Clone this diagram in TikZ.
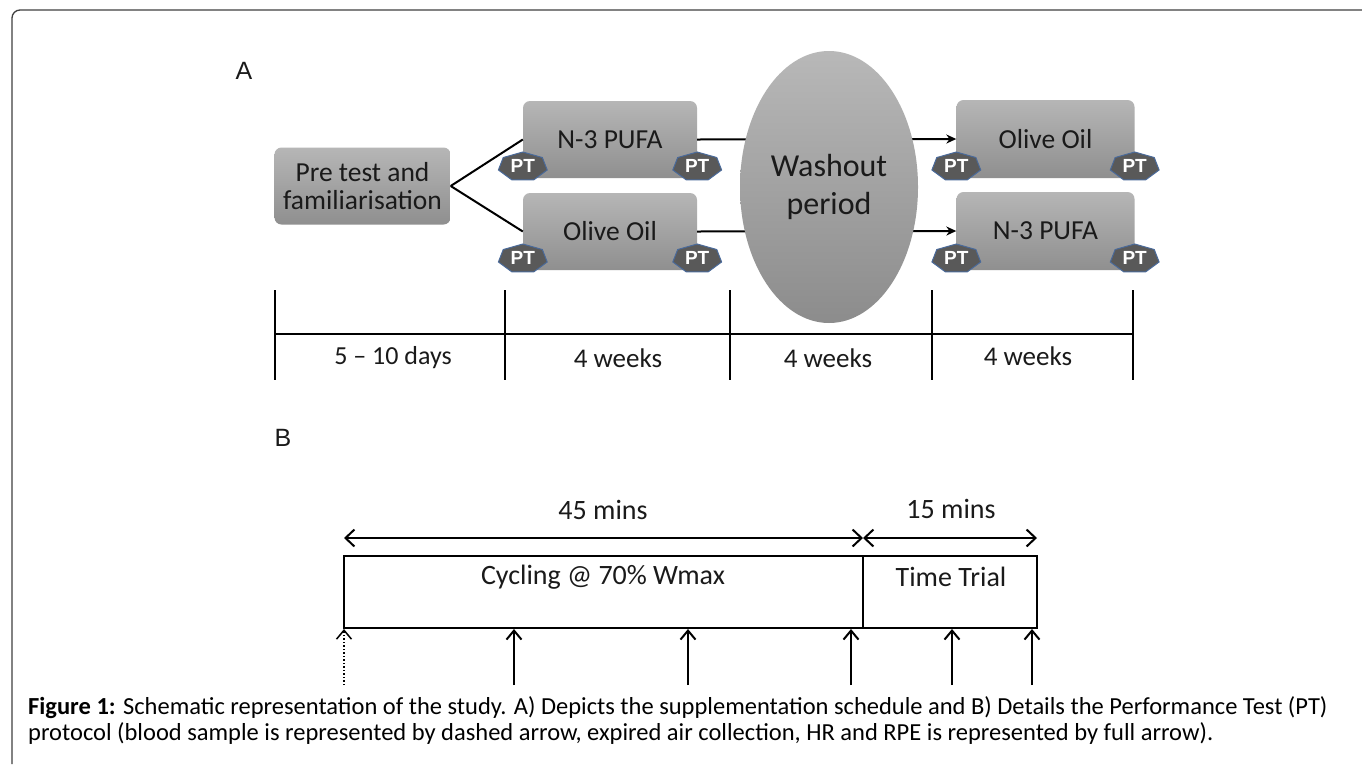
\documentclass[tikz,border=0pt]{standalone}
\usepackage{fontspec}
\setmainfont{Carlito}
\newfontfamily\arialf{Liberation Sans}
\usetikzlibrary{shapes.geometric,arrows.meta,calc}
\definecolor{boxtop}{HTML}{B6B6B6}
\definecolor{boxbot}{HTML}{8F8F8F}
\definecolor{elltop}{HTML}{B8B8B8}
\definecolor{ellbot}{HTML}{8C8C8C}
\definecolor{badgefill}{HTML}{595959}
\definecolor{badgeedge}{HTML}{4A6A9A}
\definecolor{txt}{HTML}{1A1A1A}
\definecolor{framec}{HTML}{404040}
\begin{document}
\begin{tikzpicture}[x=1pt,y=-1pt,
  graybox/.style={rectangle, rounded corners=7pt, top color=boxtop, bottom color=boxbot,
    draw=none, text=txt, align=center, font=\fontsize{27.5}{28}\selectfont,
    minimum width=176pt, minimum height=77pt, inner sep=0pt},
  washout/.style={ellipse, top color=elltop, bottom color=ellbot, draw=none, text=txt,
    align=center, font=\fontsize{32}{38}\selectfont, minimum width=178pt, minimum height=272pt, inner sep=0pt},
  link/.style={line width=2pt, black},
  linkarrow/.style={line width=2pt, black, -{Stealth[length=10pt,width=9pt]}},
  tick/.style={line width=1.2pt, black},
  tlabel/.style={font=\fontsize{27}{30}\selectfont, text=txt},
  blabel/.style={font=\fontsize{28}{30}\selectfont, text=txt},
  panel/.style={font=\arialf\fontsize{25}{28}\selectfont, text=txt},
  phase/.style={draw=black, line width=2pt, minimum height=72pt, inner sep=0pt},
  dblarrow/.style={line width=2pt, {Straight Barb[length=9pt,width=17pt]}-{Straight Barb[length=9pt,width=17pt]}},
  uparrow/.style={line width=2pt, -{Straight Barb[length=9pt,width=15pt]}},
  dotarrow/.style={line width=1.5pt, dotted, -{Straight Barb[length=9pt,width=15pt, line width=1.5pt]}},
  ptbadge/.pic={
    \fill[badgefill, draw=badgeedge, line width=1pt]
      (0,-14.7) -- (19.55,-9.16) -- (24.4,3.28) -- (10.85,13.24) -- (-10.85,13.24)
      -- (-24.4,3.28) -- (-19.55,-9.16) -- cycle;
    \node[text=white, font=\arialf\bfseries\fontsize{19}{20}\selectfont, inner sep=0pt] (-t) at (0,-0.5) {PT};
  }
]
\useasboundingbox (0,0) rectangle (1362,764);
\fill[white] (0,0) rectangle (1362,764);

% frame
\draw[framec, line width=1.3pt, rounded corners=8pt] (12,764) -- (12,10) -- (1362,10);

% panel A
\node[panel] (labA) at (244,71) {A};

\node[graybox] (pre) at (362.5,186) {Pre test and\\familiarisation};
\node[graybox, minimum width=174pt] (n3a) at (610,139.5) {N-3 PUFA};
\node[graybox, minimum width=174pt] (ola) at (610,231.5) {Olive Oil};
\node[graybox, minimum width=178pt, minimum height=78pt] (olb) at (1045.5,139) {Olive Oil};
\node[graybox, minimum width=178pt, minimum height=78pt] (n3b) at (1045.5,231) {N-3 PUFA};

\draw[link] (pre.east) -- (n3a.west);
\draw[link] (pre.east) -- (ola.west);
\draw[linkarrow] (n3a.east) -- (olb.west);
\draw[linkarrow] (ola.east) -- (n3b.west);

\node[washout] (wash) at (829,187) {Washout\\period};

\pic (p1) at ($(n3a.south west)+(0,-11.5)$) {ptbadge};
\pic (p2) at ($(n3a.south east)+(0,-11.5)$) {ptbadge};
\pic (p3) at ($(ola.south west)+(0,-11.5)$) {ptbadge};
\pic (p4) at ($(ola.south east)+(0,-11.5)$) {ptbadge};
\pic (p5) at ($(olb.south west)+(0,-11.5)$) {ptbadge};
\pic (p6) at ($(olb.south east)+(0,-11.5)$) {ptbadge};
\pic (p7) at ($(n3b.south west)+(0,-11.5)$) {ptbadge};
\pic (p8) at ($(n3b.south east)+(0,-11.5)$) {ptbadge};

% timeline
\coordinate (t0) at (275,290); \coordinate (b0) at (275,380);
\coordinate (t1) at (505,290); \coordinate (b1) at (505,380);
\coordinate (t2) at (730,290); \coordinate (b2) at (730,380);
\coordinate (t3) at (932,290); \coordinate (b3) at (932,380);
\coordinate (t4) at (1133,290); \coordinate (b4) at (1133,380);
\coordinate (h0) at (275,334); \coordinate (h4) at (1133,334);
\draw[tick] (t0) -- (b0);
\draw[tick] (t1) -- (b1);
\draw[tick] (t2) -- (b2);
\draw[tick] (t3) -- (b3);
\draw[tick] (t4) -- (b4);
\draw[tick] (h0) -- (h4);
\node[tlabel, font=\fontsize{26}{30}\selectfont] (d1) at (393,358) {5 -- 10 days};
\node[tlabel] (d2) at (618,358) {4 weeks};
\node[tlabel] (d3) at (828,358) {4 weeks};
\node[tlabel] (d4) at (1028,356) {4 weeks};

% panel B
\node[panel] (labB) at (283,438) {B};

\node[phase, minimum width=519pt] (cyc) at (603.5,592) {};
\node[phase, minimum width=174pt] (tt) at (950,592) {};
\node[blabel] (cyct) at (603,577) {Cycling @ 70\% Wmax};
\node[blabel] (ttt) at (951,577) {Time Trial};

\coordinate (da0) at (344,538); \coordinate (da1) at (863,538); \coordinate (da2) at (1037,538);
\draw[dblarrow] (da0) -- (da1);
\draw[dblarrow] (da1) -- (da2);
\node[blabel] (m45) at (603,510) {45 mins};
\node[blabel] (m15) at (951,509) {15 mins};

\foreach \i/\x in {2/514, 3/688, 4/851, 5/952, 6/1032} {
  \coordinate (ub\i) at (\x,685);
  \coordinate (ut\i) at (\x,629);
  \draw[uparrow] (ub\i) -- (ut\i);
}
\coordinate (ub1) at (344,685); \coordinate (ut1) at (344,629);
\draw[dotarrow] (ub1) -- (ut1);

% caption
\node[anchor=base west, align=left, inner sep=0pt, text=black,
  font=\fontsize{24.5}{26}\selectfont] (cap) at (28,740)
  {\textbf{Figure 1:} Schematic representation of the study. A) Depicts the supplementation schedule and B) Details the Performance Test (PT)\\
   protocol (blood sample is represented by dashed arrow, expired air collection, HR and RPE is represented by full arrow).};
\end{tikzpicture}
\end{document}
